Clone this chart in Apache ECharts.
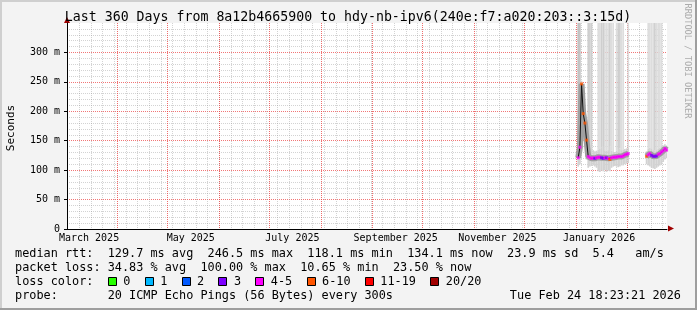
<!DOCTYPE html>
<html><head><meta charset="utf-8">
<script src="https://cdn.jsdelivr.net/npm/echarts@6/dist/echarts.min.js"></script>
<style>html,body{margin:0;padding:0;background:#f3f3f3;}#c{width:697px;height:310px;}</style>
</head><body><div id="c"></div>
<script>
// ---------------- data ----------------
const titleText = 'Last 360 Days from 8a12b4665900 to hdy-nb-ipv6(240e:f7:a020:203::3:15d)';
const rangeStart = '2025-03-01T18:23';
const rangeEnd = '2026-02-24T18:23';
const yMaxMs = 350;
const yStepMs = 50;
const xLabelDates = ['2025-03-15', '2025-05-15', '2025-07-15', '2025-09-15', '2025-11-15', '2026-01-15'];
const xLabelTexts = ['March 2025', 'May 2025', 'July 2025', 'September 2025', 'November 2025', 'January 2026'];

// daily consolidated samples
const days = [
  '2026-01-02','2026-01-03','2026-01-04','2026-01-05','2026-01-06','2026-01-07','2026-01-08','2026-01-09',
  '2026-01-10','2026-01-11','2026-01-12','2026-01-13','2026-01-14','2026-01-15','2026-01-16','2026-01-17',
  '2026-01-18','2026-01-19','2026-01-20','2026-01-21','2026-01-22','2026-01-23','2026-01-24','2026-01-25',
  '2026-01-26','2026-01-27','2026-01-28','2026-01-29','2026-01-30','2026-01-31','2026-02-01',
  '2026-02-12','2026-02-13','2026-02-14','2026-02-15','2026-02-16','2026-02-17','2026-02-18','2026-02-19',
  '2026-02-20','2026-02-21','2026-02-22','2026-02-23','2026-02-24'
];
// median rtt (ms)
const median = [
  121,139,246.5,196,180,151,123,121,120,121,120,121,122,122,121,120,121,121,120,118.1,121,122,122,122,123,123,123,124,126,127,128,
  123.5,126,128,125,123.5,123.5,124,127,128,131,133,136.7,134.1
];
// lost pings (of 20)
const lostPings = [
  5,5,7,7,7,7,5,5,5,5,3,5,5,5,3,3,5,3,5,7,5,5,5,5,5,5,5,5,5,5,5,
  7,5,5,3,3,3,3,5,5,5,5,5,5
];
// smoke range (ms)
const smokeLo = [
  106,110,165,150,140,118,104,106,107,108,106,104,98,97,99,98,100,97,99,98,104,106,107,106,105,106,108,108,110,111,112,
  110,108,106,104,103,102,104,106,108,110,114,118,120
];
const smokeHi = [
  142,160,252,215,200,180,148,140,138,134,132,133,135,136,138,140,134,133,134,140,133,132,131,133,136,137,134,135,136,137,138,
  132,136,138,136,134,134,134,136,138,140,142,144,142
];
// lost-ping smoke reaching the top of the graph (0 none .. 3 dense)
const smokeTop = [
  3,3,0,0,0,0,2,2,2,0,0,0,1,1,2,2,1,1,1,2,1,1,0,1,2,2,1,1,0,0,1,
  0,1,1,1,1,2,1,1,1,1,0,0,0
];
const lossLabels = ['0', '1', '2', '3', '4-5', '6-10', '11-19', '20/20'];
const lossUpper = [0, 1, 2, 3, 5, 10, 19, 20];
const lossColors = ['#26ff00', '#00b8ff', '#0059ff', '#7e00ff', '#ff00ff', '#ff5500', '#ff0000', '#a10000'];
const rttLine = 'median rtt:  129.7 ms avg  246.5 ms max  118.1 ms min  134.1 ms now  23.9 ms sd  5.4   am/s';
const lossLine = 'packet loss: 34.83 % avg  100.00 % max  10.65 % min  23.50 % now';
const probeLine = 'probe:       20 ICMP Echo Pings (56 Bytes) every 300s';
const stampText = 'Tue Feb 24 18:23:21 2026';
const creditText = 'RRDTOOL / TOBI OETIKER';

// ---------------- chart ----------------
const MONO = '"DejaVu Sans Mono", monospace';
const DAY = 86400000;
const tsOf = s => new Date(s).getTime();
const pts = days.map(d => tsOf(d + 'T12:00'));
const xLabelTs = xLabelDates.map(d => tsOf(d + 'T00:00'));
const G = { left: 67, right: 30, top: 23, bottom: 81 };

const bucketOf = n => lossUpper.findIndex(u => n <= u);
const topShades = [null, '#dddddd', '#cecece', '#c2c2c2'];

const smokeData = pts.map((t, i) => [t, smokeLo[i], smokeHi[i], smokeTop[i]]);
const lineData = [];
pts.forEach((t, i) => {
  if (i > 0 && t - pts[i - 1] > 1.5 * DAY) lineData.push([pts[i - 1] + DAY, null]);
  lineData.push([t, median[i]]);
});
const dotData = pts.map((t, i) => [t, median[i], lostPings[i]]);

// vertical grid: weekly minor (0), monthly major (1)
const tEnd = tsOf(rangeEnd), tStart = tsOf(rangeStart);
const vGrid = [];
for (let d = new Date('2025-03-02T00:00'); d.getTime() < tEnd; d.setDate(d.getDate() + 7)) {
  if (d.getTime() > tStart) vGrid.push([d.getTime(), 0]);
}
for (let m = 3; m <= 13; m++) vGrid.push([new Date(2025, m, 1).getTime(), 1]);
const gridColors = ['rgba(150,150,150,0.42)', 'rgba(235,60,60,0.75)'];

const graphics = [];
graphics.push({ type: 'rect', shape: { x: 0, y: 0, width: 697, height: 2 }, style: { fill: '#cfcfcf' }, silent: true });
graphics.push({ type: 'rect', shape: { x: 0, y: 0, width: 2, height: 310 }, style: { fill: '#cfcfcf' }, silent: true });
graphics.push({ type: 'rect', shape: { x: 0, y: 308, width: 697, height: 2 }, style: { fill: '#9e9e9e' }, silent: true });
graphics.push({ type: 'rect', shape: { x: 695, y: 0, width: 2, height: 310 }, style: { fill: '#9e9e9e' }, silent: true });
graphics.push({ type: 'polygon', shape: { points: [[668, 225.5], [674, 228.5], [668, 231.5]] }, style: { fill: '#a00000' }, silent: true });
graphics.push({ type: 'polygon', shape: { points: [[64, 23], [67, 17], [70, 23]] }, style: { fill: '#a00000' }, silent: true });
graphics.push({ type: 'text', x: 348, y: 17.5, style: { text: titleText, font: '13.25px ' + MONO, fill: '#000', align: 'center', verticalAlign: 'middle' }, silent: true });
graphics.push({ type: 'text', x: 11, y: 128, rotation: Math.PI / 2, style: { text: 'Seconds', font: '11px ' + MONO, fill: '#000', align: 'center', verticalAlign: 'middle' }, silent: true });
graphics.push({ type: 'text', x: 687, y: 61, rotation: -Math.PI / 2, style: { text: creditText, font: '8.7px ' + MONO, fill: '#ababab', align: 'center', verticalAlign: 'middle' }, silent: true });
const LF = 11.85, CW = LF * 0.602, LX = 15;
const legendFont = LF + 'px ' + MONO;
graphics.push({ type: 'text', x: LX, y: 254, style: { text: rttLine, font: legendFont, fill: '#000', align: 'left', verticalAlign: 'middle' }, silent: true });
graphics.push({ type: 'text', x: LX, y: 268, style: { text: lossLine, font: legendFont, fill: '#000', align: 'left', verticalAlign: 'middle' }, silent: true });
graphics.push({ type: 'text', x: LX, y: 282, style: { text: 'loss color:', font: legendFont, fill: '#000', align: 'left', verticalAlign: 'middle' }, silent: true });
graphics.push({ type: 'text', x: LX, y: 296, style: { text: probeLine, font: legendFont, fill: '#000', align: 'left', verticalAlign: 'middle' }, silent: true });
graphics.push({ type: 'text', x: 681, y: 296, style: { text: stampText, font: legendFont, fill: '#000', align: 'right', verticalAlign: 'middle' }, silent: true });
let bx = LX + 13 * CW;
lossLabels.forEach((lab, i) => {
  const x0 = Math.round(bx) + 0.5;
  graphics.push({ type: 'rect', shape: { x: x0, y: 277.5, width: 8, height: 8 }, style: { fill: lossColors[i], stroke: '#000', lineWidth: 1 }, silent: true });
  graphics.push({ type: 'text', x: bx + 15.5, y: 282, style: { text: lab, font: legendFont, fill: '#000', align: 'left', verticalAlign: 'middle' }, silent: true });
  bx += 15.5 + (lab.length + 2) * CW;
});

const chart = echarts.init(document.getElementById('c'), null, { renderer: 'canvas' });
chart.setOption({
  backgroundColor: '#f3f3f3',
  animation: false,
  grid: { left: G.left, right: G.right, top: G.top, bottom: G.bottom, containLabel: false, outerBoundsMode: 'none',
          show: true, backgroundColor: '#ffffff', borderWidth: 0 },
  xAxis: {
    type: 'value', min: tStart, max: tEnd, scale: true,
    axisLine: { show: true, lineStyle: { color: '#000', width: 1 } },
    axisTick: { show: false },
    splitLine: { show: false },
    axisLabel: {
      customValues: xLabelTs,
      formatter: v => { const i = xLabelTs.indexOf(v); return i >= 0 ? xLabelTexts[i] : ''; },
      fontFamily: MONO, fontSize: 10, color: '#000', margin: 4, hideOverlap: false
    }
  },
  yAxis: {
    type: 'value', min: 0, max: yMaxMs, interval: yStepMs,
    axisLine: { show: true, lineStyle: { color: '#000', width: 1 } },
    axisTick: { show: true, length: 3, lineStyle: { color: '#000' } },
    axisLabel: { formatter: v => (v === 0 ? '0' : v + ' m'), fontFamily: MONO, fontSize: 10, color: '#000', margin: 7, showMaxLabel: false },
    splitLine: { show: true, showMinLine: false, showMaxLine: false, lineStyle: { color: 'rgba(235,60,60,0.7)', type: [1, 1], width: 1 } },
    minorTick: { show: false, splitNumber: 5 },
    minorSplitLine: { show: true, lineStyle: { color: 'rgba(150,150,150,0.42)', type: [1, 1], width: 1 } }
  },
  series: [
    {
      type: 'custom', z: 1, silent: true, data: vGrid,
      encode: { x: 0 },
      renderItem: (params, api) => {
        const cs = params.coordSys;
        const x = Math.round(api.coord([api.value(0), 0])[0]) + 0.5;
        if (x <= cs.x + 1 || x >= cs.x + cs.width) return null;
        return { type: 'line', shape: { x1: x, y1: cs.y, x2: x, y2: cs.y + cs.height },
                 style: { stroke: gridColors[api.value(1)], lineWidth: 1, lineDash: [1, 1] } };
      }
    },
    {
      type: 'custom', z: 2, silent: true, data: smokeData,
      encode: { x: 0, y: [1, 2] },
      renderItem: (params, api) => {
        const t = api.value(0), lo = api.value(1), hi = api.value(2), lvl = api.value(3);
        const cs = params.coordSys;
        const a = api.coord([t - DAY / 2, hi]);
        const b = api.coord([t + DAY / 2, lo]);
        const children = [];
        const add = (x0, y0, x1, y1, fill) => {
          const r = echarts.graphic.clipRectByRect({ x: x0, y: y0, width: x1 - x0, height: y1 - y0 },
            { x: cs.x, y: cs.y, width: cs.width, height: cs.height });
          if (r) children.push({ type: 'rect', shape: r, style: { fill } });
        };
        if (lvl > 0) { const top = api.coord([t, yMaxMs]); add(a[0], top[1], b[0], a[1], topShades[lvl]); }
        add(a[0], a[1], b[0], b[1], '#d2d2d2');
        return { type: 'group', children };
      }
    },
    { type: 'line', z: 3, silent: true, data: lineData, showSymbol: false, connectNulls: false,
      lineStyle: { color: '#a0a0a0', width: 6 } },
    { type: 'line', z: 4, silent: true, data: lineData, showSymbol: false, connectNulls: false,
      lineStyle: { color: '#111', width: 1 } },
    { type: 'scatter', z: 5, silent: true, data: dotData, symbol: 'rect', symbolSize: [3, 3],
      itemStyle: { color: p => lossColors[bucketOf(p.data[2])] } }
  ],
  graphic: graphics
});
</script></body></html>
